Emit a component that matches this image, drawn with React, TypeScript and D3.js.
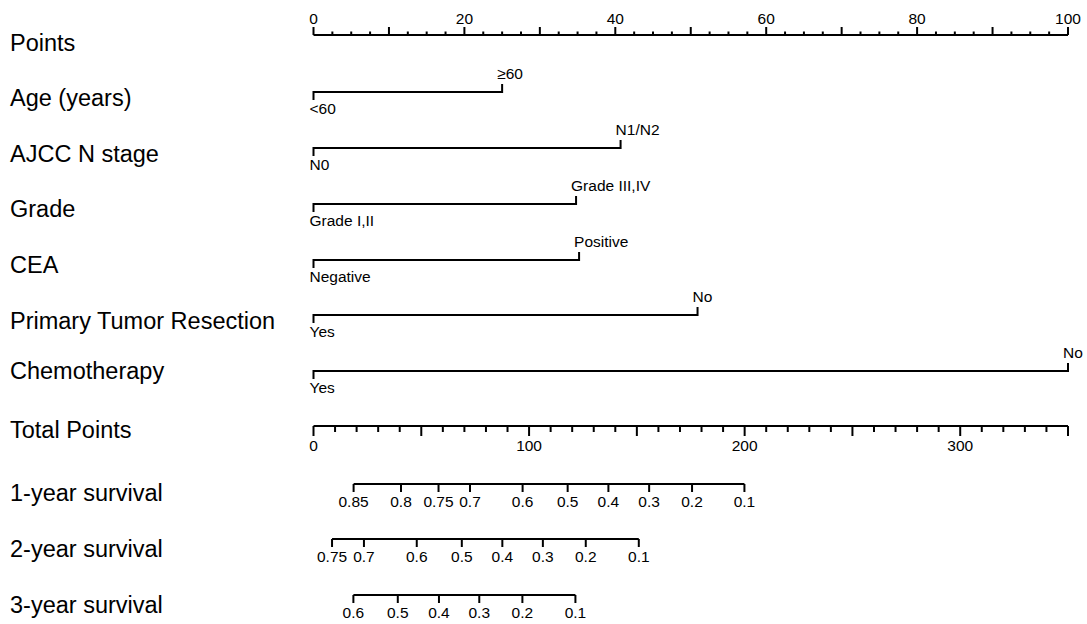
import React from 'react';
import * as d3 from 'd3';

// nomogram values
const pointTicks = d3.range(0, 100.1, 2.5);
const pointLabels = [0, 20, 40, 60, 80, 100];

const varNames = ['Age (years)', 'AJCC N stage', 'Grade', 'CEA', 'Primary Tumor Resection', 'Chemotherapy'];
const lowLabels = ['<60', 'N0', 'Grade I,II', 'Negative', 'Yes', 'Yes'];
const highLabels = ['≥60', 'N1/N2', 'Grade III,IV', 'Positive', 'No', 'No'];
const highPoints = [25, 40.7, 34.8, 35.2, 50.9, 100];

const totalTicks = d3.range(0, 351, 10);
const totalLabels = [0, 100, 200, 300];

const survNames = ['1-year survival', '2-year survival', '3-year survival'];
const surv1Probs = ['0.85', '0.8', '0.75', '0.7', '0.6', '0.5', '0.4', '0.3', '0.2', '0.1'];
const surv1Total = [18.6, 40.6, 58.0, 72.6, 97.0, 117.9, 136.8, 155.7, 175.6, 199.9];
const surv2Probs = ['0.75', '0.7', '0.6', '0.5', '0.4', '0.3', '0.2', '0.1'];
const surv2Total = [8.6, 23.4, 47.9, 68.8, 87.6, 106.4, 126.3, 150.9];
const surv3Probs = ['0.6', '0.5', '0.4', '0.3', '0.2', '0.1'];
const surv3Total = [18.5, 39.1, 58.2, 76.9, 96.9, 121.5];

const W = 1087;
const H = 624;
const font = '"Liberation Sans", Arial, sans-serif';
const bigSize = 23.5;
const smallSize = 15.5;

const App = () => {
  const x = d3.scaleLinear().domain([0, 100]).range([313.5, 1068]);
  const xt = d3.scaleLinear().domain([0, 350]).range([313.5, 1068]);

  const pointsY = 35;
  const rowY = [92, 148, 204, 260, 315, 371];
  const labelY = [106, 162, 217, 273, 329, 379];
  const totalY = 426;
  const survY = [484, 539, 595];
  const survLabelY = [501, 557, 613];
  const survSets = [
    { probs: surv1Probs, tot: surv1Total },
    { probs: surv2Probs, tot: surv2Total },
    { probs: surv3Probs, tot: surv3Total },
  ];

  return (
    <svg width={W} height={H} style={{ position: 'absolute', left: 0, top: 0, background: '#fff' }}
      fontFamily={font} fill="#000">
      {/* Points axis */}
      <text x={10} y={51} fontSize={bigSize}>Points</text>
      <line x1={x(0)} x2={x(100)} y1={pointsY} y2={pointsY} stroke="#000" strokeWidth={2} />
      {pointTicks.map(t => (
        <line key={t} x1={x(t)} x2={x(t)} y1={pointsY}
          y2={pointsY - (t % 10 === 0 ? 8 : 3.5)} stroke="#000" strokeWidth={2} />
      ))}
      {pointLabels.map(t => (
        <text key={t} x={x(t)} y={23.5} fontSize={smallSize} textAnchor="middle">{t}</text>
      ))}

      {/* variables */}
      {varNames.map((name, i) => {
        const y = rowY[i];
        const x1 = x(0);
        const x2 = x(highPoints[i]);
        return (
          <g key={name}>
            <text x={10} y={labelY[i]} fontSize={bigSize}>{name}</text>
            <path d={`M${x1},${y + 8}V${y}H${x2}V${y - 8}`} fill="none" stroke="#000" strokeWidth={2} />
            <text x={x1 - 4} y={y + 22} fontSize={smallSize}>{lowLabels[i]}</text>
            <text x={x2 - 5} y={y - 13} fontSize={smallSize}>{highLabels[i]}</text>
          </g>
        );
      })}

      {/* Total points axis */}
      <text x={10} y={438} fontSize={bigSize}>Total Points</text>
      <line x1={xt(0)} x2={xt(350)} y1={totalY} y2={totalY} stroke="#000" strokeWidth={2} />
      {totalTicks.map(t => (
        <line key={t} x1={xt(t)} x2={xt(t)} y1={totalY}
          y2={totalY + (t % 50 === 0 ? 10 : 6)} stroke="#000" strokeWidth={2} />
      ))}
      {totalLabels.map(t => (
        <text key={t} x={xt(t)} y={451} fontSize={smallSize} textAnchor="middle">{t}</text>
      ))}

      {/* survival axes */}
      {survNames.map((name, i) => {
        const y = survY[i];
        const { probs, tot } = survSets[i];
        const ext = d3.extent(tot) as [number, number];
        return (
          <g key={name}>
            <text x={10} y={survLabelY[i]} fontSize={bigSize}>{name}</text>
            <line x1={xt(ext[0])} x2={xt(ext[1])} y1={y} y2={y} stroke="#000" strokeWidth={2} />
            {tot.map((v, j) => (
              <g key={j}>
                <line x1={xt(v)} x2={xt(v)} y1={y} y2={y + 8} stroke="#000" strokeWidth={2} />
                <text x={xt(v)} y={y + 23} fontSize={smallSize} textAnchor="middle">{probs[j]}</text>
              </g>
            ))}
          </g>
        );
      })}
    </svg>
  );
};

export default App;
